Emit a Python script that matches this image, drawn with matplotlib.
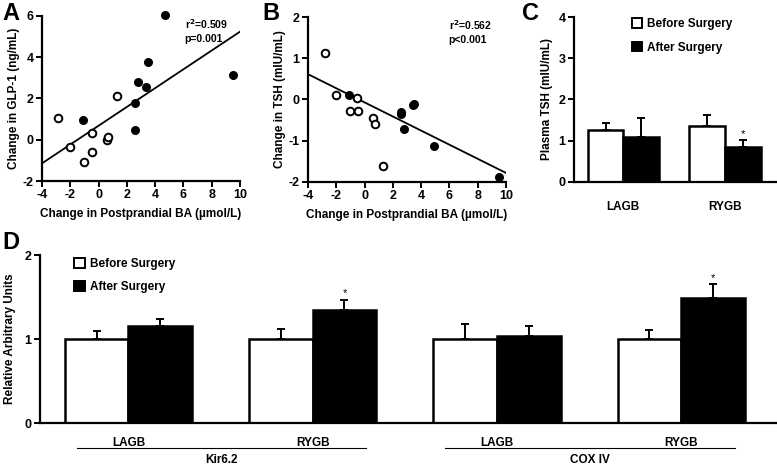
import numpy as np
import matplotlib
matplotlib.use("Agg")
import matplotlib.pyplot as plt
from matplotlib.patches import Patch
from matplotlib.transforms import blended_transform_factory

plt.rcParams['font.family'] = ['Liberation Sans', 'DejaVu Sans']
plt.rcParams['font.weight'] = 'bold'
plt.rcParams['axes.labelweight'] = 'bold'
plt.rcParams['axes.unicode_minus'] = False

# ---- panel A: change in BA vs change in GLP-1
a_filled_x = [4.7, 9.47, 3.47, 2.78, 3.35, 2.57, 2.55, -1.12]
a_filled_y = [6.05, 3.14, 3.77, 2.79, 2.54, 1.80, 0.48, 0.98]
a_open_x = [-2.84, 1.30, -2.04, -0.48, -0.43, -1.02, 0.61, 0.68]
a_open_y = [1.06, 2.14, -0.33, 0.33, -0.59, -1.09, 0.00, 0.14]
a_fit = (0.456, 0.68)  # slope, intercept
a_stats = "r$^2$=0.509\np=0.001"

# ---- panel B: change in BA vs change in TSH
b_filled_x = [-1.10, 2.56, 2.58, 2.82, 3.44, 3.50, 4.90, 9.48]
b_filled_y = [0.10, -0.30, -0.35, -0.72, -0.13, -0.10, -1.12, -1.88]
b_open_x = [-2.82, -2.02, -0.55, -1.00, -0.44, 0.60, 0.72, 1.31]
b_open_y = [1.13, 0.12, 0.04, -0.29, -0.29, -0.46, -0.59, -1.61]
b_fit = (-0.171, -0.07)
b_stats = "r$^2$=0.562\np<0.001"

# ---- panel C: plasma TSH
c_groups = ["LAGB", "RYGB"]
c_before = [1.27, 1.35]
c_before_err = [0.16, 0.27]
c_after = [1.09, 0.84]
c_after_err = [0.47, 0.19]
c_sig = [False, True]

# ---- panel D: relative expression
d_groups = ["LAGB", "RYGB", "LAGB", "RYGB"]
d_genes = ["Kir6.2", "COX IV"]
d_before = [1.0, 1.0, 1.0, 1.0]
d_before_err = [0.10, 0.12, 0.18, 0.11]
d_after = [1.15, 1.35, 1.04, 1.49]
d_after_err = [0.09, 0.12, 0.11, 0.16]
d_sig = [False, True, False, True]

W, H = 777, 465
fig = plt.figure(figsize=(W / 100, H / 100), dpi=100)


def px_axes(l, t, r, b):
    return fig.add_axes([l / W, 1 - b / H, (r - l) / W, (b - t) / H])


def style(ax, bottom_ticks=True):
    for s in ["top", "right"]:
        ax.spines[s].set_visible(False)
    for s in ["left", "bottom"]:
        ax.spines[s].set_linewidth(1.6)
    ax.tick_params(direction="out", length=4, width=1.4, labelsize=9, pad=2)
    if not bottom_ticks:
        ax.tick_params(axis="x", length=0)
    for lab in ax.get_xticklabels() + ax.get_yticklabels():
        lab.set_fontweight("bold")


def scatter_panel(ax, fx, fy, ox, oy, fit, stats, ylim, yticks, ylabel, stat_x):
    ax.scatter(ox, oy, s=30, facecolor="white", edgecolor="black", linewidth=1.4,
               zorder=3, clip_on=False)
    ax.scatter(fx, fy, s=30, facecolor="black", edgecolor="black", linewidth=1.0,
               zorder=3, clip_on=False)
    xs = np.array([-4, 10])
    ax.plot(xs, fit[0] * xs + fit[1], color="black", lw=1.3, zorder=2)
    ax.set_xlim(-4, 10)
    ax.set_ylim(*ylim)
    ax.set_xticks(range(-4, 11, 2))
    ax.set_yticks(yticks)
    ax.set_xlabel("Change in Postprandial BA (µmol/L)", fontsize=8.5, labelpad=5)
    ax.set_ylabel(ylabel, fontsize=8.5, labelpad=2)
    ax.text(stat_x, 0.99, stats, transform=ax.transAxes, fontsize=7.5, fontweight="bold",
            va="top", ha="left", linespacing=1.3)
    style(ax)


def bar_panel(ax, centers, before, berr, after, aerr, sig, width, yscale_star):
    centers = np.asarray(centers, dtype=float)
    xb = centers - width / 2
    xa = centers + width / 2
    ax.bar(xb, before, width, color="white", edgecolor="black", linewidth=1.8, zorder=2)
    ax.bar(xa, after, width, color="black", edgecolor="black", linewidth=1.8, zorder=2)
    ax.errorbar(xb, before, yerr=[np.zeros(len(before)), berr], fmt="none",
                ecolor="black", elinewidth=1.4, capsize=3, capthick=1.4, zorder=1)
    ax.errorbar(xa, after, yerr=[np.zeros(len(after)), aerr], fmt="none",
                ecolor="black", elinewidth=1.4, capsize=3, capthick=1.4, zorder=1)
    for x, v, e, s in zip(xa, after, aerr, sig):
        if s:
            ax.text(x, v + e + yscale_star, "*", ha="center", va="bottom", fontsize=8,
                    fontweight="normal")


def add_legend(ax, anchor):
    handles = [Patch(facecolor="white", edgecolor="black", linewidth=1.4, label="Before Surgery"),
               Patch(facecolor="black", edgecolor="black", linewidth=1.4, label="After Surgery")]
    ax.legend(handles=handles, loc="upper left", bbox_to_anchor=anchor, frameon=False,
              handlelength=0.9, handleheight=0.9, handletextpad=0.4, labelspacing=0.95,
              prop={"weight": "bold", "size": 8.5}, borderaxespad=0)


# A
axA = px_axes(42, 16, 240, 181)
scatter_panel(axA, a_filled_x, a_filled_y, a_open_x, a_open_y, a_fit, a_stats,
              (-2, 6), range(-2, 7, 2), "Change in GLP-1 (ng/mL)", 0.72)
fig.text(2 / W, 1 - 2 / H, "A", fontsize=17, fontweight="bold", va="top", ha="left")

# B
axB = px_axes(308, 17, 506, 182)
scatter_panel(axB, b_filled_x, b_filled_y, b_open_x, b_open_y, b_fit, b_stats,
              (-2, 2), range(-2, 3, 1), "Change in TSH (mIU/mL)", 0.71)
fig.text(262 / W, 1 - 2 / H, "B", fontsize=17, fontweight="bold", va="top", ha="left")

# C
axC = px_axes(574, 17, 777, 182)
bar_panel(axC, range(len(c_groups)), c_before, c_before_err, c_after, c_after_err,
          c_sig, 0.35, 0.02)
axC.set_xlim(-0.485, 1.51)
axC.set_ylim(0, 4)
axC.set_yticks(range(0, 5))
axC.set_xticks(range(len(c_groups)))
axC.set_xticklabels(c_groups, fontsize=8.5)
axC.set_ylabel("Plasma TSH (mIU/mL)", fontsize=8.5, labelpad=4)
style(axC, bottom_ticks=False)
axC.tick_params(axis="x", pad=14, labelsize=8.5)
add_legend(axC, (0.26, 1.02))
fig.text(522 / W, 1 - 2 / H, "C", fontsize=17, fontweight="bold", va="top", ha="left")

# D
axD = px_axes(40, 255, 777, 423)
d_centers = np.arange(len(d_groups))
bar_panel(axD, d_centers, d_before, d_before_err, d_after, d_after_err, d_sig, 0.345, 0.02)
axD.set_xlim(-0.48, 3.52)
axD.set_ylim(0, 2)
axD.set_yticks([0, 1, 2])
axD.set_xticks(d_centers)
axD.set_xticklabels(d_groups, fontsize=8.5)
axD.set_ylabel("Relative Arbitrary Units", fontsize=8.5, labelpad=6)
style(axD, bottom_ticks=False)
axD.tick_params(axis="x", pad=10, labelsize=8.5)
add_legend(axD, (0.04, 1.01))
tr = blended_transform_factory(axD.transData, axD.transAxes)
for i, gene in enumerate(d_genes):
    x0, x1 = d_centers[2 * i] - 0.28, d_centers[2 * i + 1] + 0.29
    axD.plot([x0, x1], [-0.149, -0.149], transform=tr, color="black", lw=0.8, clip_on=False)
    axD.text((x0 + x1) / 2, -0.222, gene, transform=tr, ha="center", va="center",
             fontsize=8.5, fontweight="bold")
fig.text(2 / W, 1 - 231 / H, "D", fontsize=17, fontweight="bold", va="top", ha="left")

fig.savefig("out.png", dpi=100)
